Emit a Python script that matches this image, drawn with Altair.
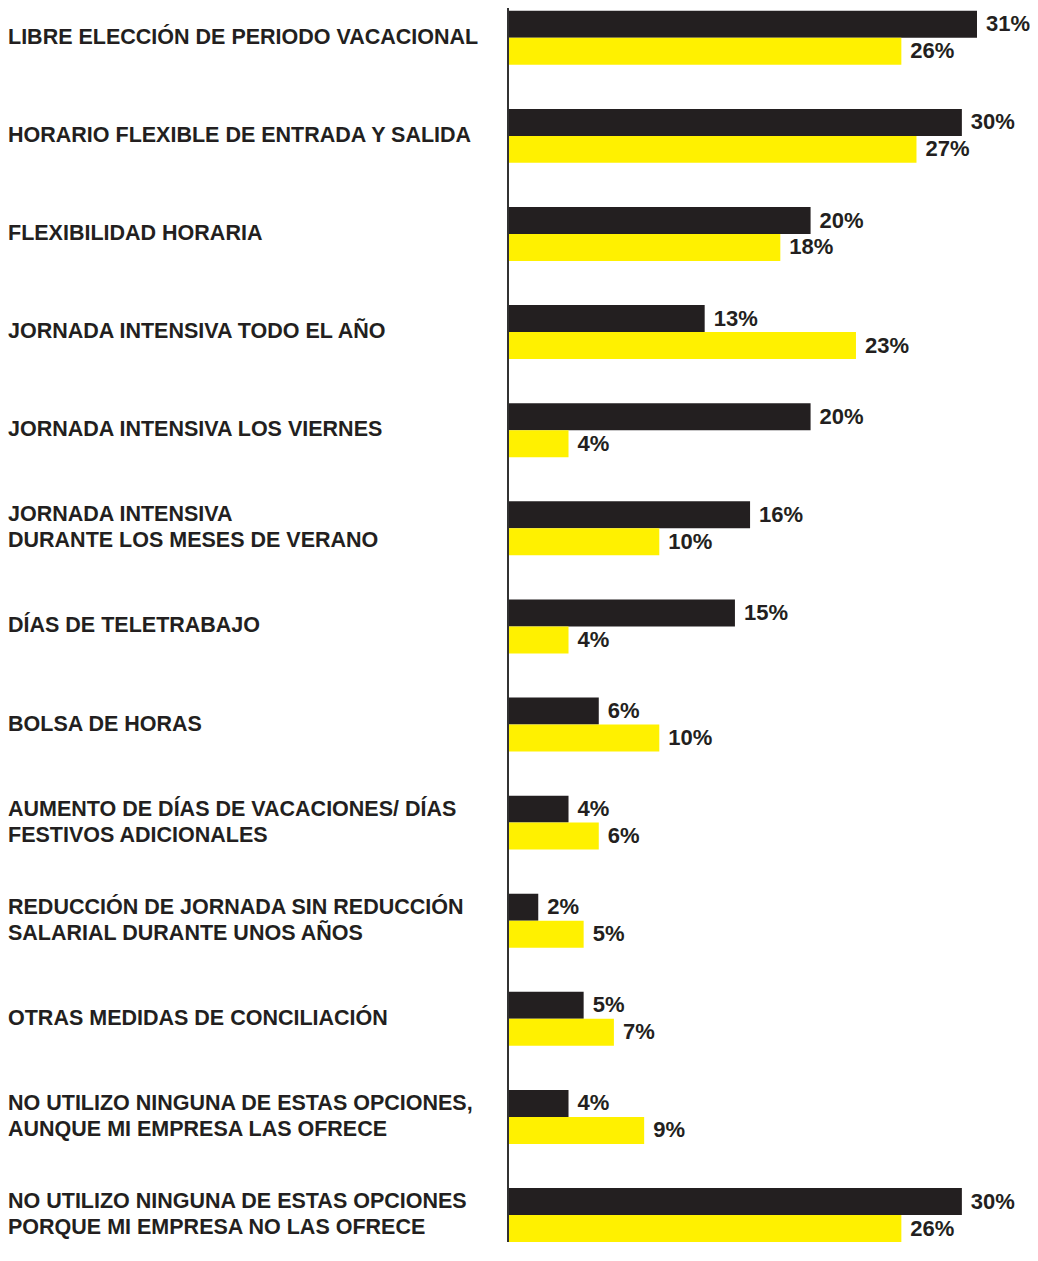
import altair as alt
import pandas as pd

categories = [
    "LIBRE ELECCIÓN DE PERIODO VACACIONAL",
    "HORARIO FLEXIBLE DE ENTRADA Y SALIDA",
    "FLEXIBILIDAD HORARIA",
    "JORNADA INTENSIVA TODO EL AÑO",
    "JORNADA INTENSIVA LOS VIERNES",
    "JORNADA INTENSIVA\nDURANTE LOS MESES DE VERANO",
    "DÍAS DE TELETRABAJO",
    "BOLSA DE HORAS",
    "AUMENTO DE DÍAS DE VACACIONES/ DÍAS\nFESTIVOS ADICIONALES",
    "REDUCCIÓN DE JORNADA SIN REDUCCIÓN\nSALARIAL DURANTE UNOS AÑOS",
    "OTRAS MEDIDAS DE CONCILIACIÓN",
    "NO UTILIZO NINGUNA DE ESTAS OPCIONES,\nAUNQUE MI EMPRESA LAS OFRECE",
    "NO UTILIZO NINGUNA DE ESTAS OPCIONES\nPORQUE MI EMPRESA NO LAS OFRECE",
]
series_names = ["Serie negra", "Serie amarilla"]
serie_negra = [31, 30, 20, 13, 20, 16, 15, 6, 4, 2, 5, 4, 30]
serie_amarilla = [26, 27, 18, 23, 4, 10, 4, 10, 6, 5, 7, 9, 26]
series_colors = ["#231f20", "#fff100"]

rows = []
for i, cat in enumerate(categories):
    rows.append({"cat": cat, "serie": series_names[0], "valor": serie_negra[i]})
    rows.append({"cat": cat, "serie": series_names[1], "valor": serie_amarilla[i]})
df = pd.DataFrame(rows)
df["etiqueta"] = df["valor"].astype(str) + "%"

cat_df = pd.DataFrame({"cat": categories})
cat_df["lineas"] = cat_df["cat"].str.count("\n") + 1

W = 469
H = 1234
LEFT = 500
FONT = "Liberation Sans"
TXT = "#231f20"

y_scale = alt.Scale(paddingInner=0.45, paddingOuter=0.0143, align=1)
y_enc = alt.Y("cat:N", sort=categories, axis=None, scale=y_scale)
x_enc = alt.X("valor:Q", axis=None,
              scale=alt.Scale(domain=[0, 31], nice=False, zero=True))
yoff = alt.YOffset("serie:N", sort=series_names,
                   scale=alt.Scale(paddingInner=0, paddingOuter=0))

base = alt.Chart(df)

bars = base.mark_bar(cornerRadius=0).encode(
    x=x_enc, y=y_enc, yOffset=yoff,
    color=alt.Color("serie:N", sort=series_names,
                    scale=alt.Scale(domain=series_names, range=series_colors),
                    legend=None),
)

vals = base.mark_text(align="left", baseline="middle", dx=9, fontSize=22,
                      fontWeight="bold", font=FONT, color=TXT).encode(
    x=x_enc, y=y_enc, yOffset=yoff, text="etiqueta:N"
)


def label_layer(n_lines, dy):
    return alt.Chart(cat_df).transform_filter(
        alt.datum.lineas == n_lines
    ).mark_text(
        align="left", baseline="middle", fontSize=21.5, fontWeight="bold",
        font=FONT, color=TXT, lineBreak="\n", lineHeight=26, dy=dy
    ).encode(
        x=alt.value(-LEFT),
        y=alt.Y("cat:N", sort=categories, axis=None, scale=y_scale),
        text="cat:N"
    )


labels1 = label_layer(1, 0)
labels2 = label_layer(2, -13)

axis_line = alt.Chart(cat_df).mark_rule(color="#333333", strokeWidth=1).encode(
    x=alt.value(0), y=alt.value(0), y2=alt.value(H)
)

chart = alt.layer(bars, vals, labels1, labels2, axis_line).properties(
    width=W, height=H,
    autosize=alt.AutoSizeParams(type="none"),
    padding={"left": LEFT, "top": 0, "right": 53, "bottom": 0},
).configure_view(stroke=None)

chart.save("out.html", embed_options={"renderer": "svg", "actions": False})
